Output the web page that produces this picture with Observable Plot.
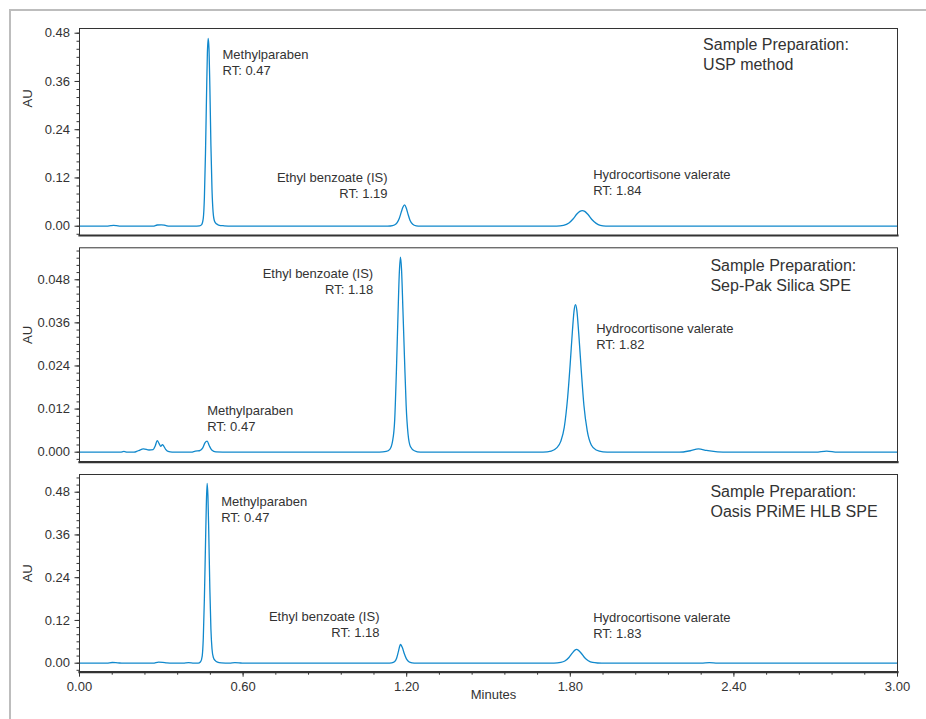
<!DOCTYPE html>
<html><head><meta charset="utf-8">
<script src="https://cdn.jsdelivr.net/npm/d3@7"></script>
<script src="https://cdn.jsdelivr.net/npm/@observablehq/plot@0.6"></script>
<style>
body{margin:0;background:#fff;}
#wrap{position:relative;width:926px;height:719px;overflow:hidden;background:#fff;}
#border{position:absolute;left:9px;top:9px;width:1000px;height:1000px;border-left:2px solid #bdbdbd;border-top:2px solid #bdbdbd;}
#wrap svg{position:absolute;left:0;}
</style></head><body><div id="wrap"><div id="border"></div></div>
<script>
// ---- data: chromatogram traces (minutes, AU) ----
const uspTime = [0, 0.10, 0.115, 0.125, 0.135, 0.15, 0.27, 0.285, 0.30, 0.315, 0.33, 0.42, 0.44, 0.448, 0.454, 0.458, 0.462, 0.466, 0.469, 0.472, 0.475, 0.478, 0.482, 0.486, 0.49, 0.495, 0.502, 0.51, 0.53, 0.56, 1.12, 1.14, 1.155, 1.165, 1.173, 1.18, 1.186, 1.192, 1.198, 1.204, 1.212, 1.222, 1.235, 1.25, 1.75, 1.775, 1.795, 1.81, 1.825, 1.835, 1.844, 1.853, 1.865, 1.88, 1.895, 1.91, 1.93, 3.0];
const uspAU = [0, 0, 0.0015, 0.002, 0.0015, 0, 0, 0.003, 0.0035, 0.002, 0, 0, 0.001, 0.004, 0.02, 0.07, 0.18, 0.33, 0.43, 0.467, 0.44, 0.35, 0.2, 0.09, 0.035, 0.013, 0.006, 0.003, 0.001, 0, 0, 0.0005, 0.003, 0.009, 0.02, 0.035, 0.047, 0.053, 0.046, 0.032, 0.015, 0.005, 0.001, 0, 0, 0.002, 0.008, 0.018, 0.031, 0.037, 0.039, 0.037, 0.029, 0.016, 0.007, 0.002, 0, 0];

const sepTime = [0, 0.15, 0.163, 0.175, 0.2, 0.215, 0.235, 0.255, 0.27, 0.278, 0.285, 0.292, 0.298, 0.304, 0.309, 0.316, 0.325, 0.34, 0.41, 0.425, 0.44, 0.452, 0.46, 0.468, 0.476, 0.485, 0.5, 0.55, 1.10, 1.125, 1.138, 1.148, 1.156, 1.162, 1.168, 1.173, 1.177, 1.181, 1.186, 1.192, 1.198, 1.205, 1.214, 1.228, 1.25, 1.70, 1.73, 1.75, 1.765, 1.778, 1.79, 1.80, 1.808, 1.814, 1.819, 1.824, 1.831, 1.84, 1.85, 1.862, 1.877, 1.895, 1.92, 1.95, 2.2, 2.24, 2.27, 2.30, 2.34, 2.38, 2.7, 2.74, 2.78, 3.0];
const sepAU = [0, 0, 0.0002, 0, 0, 0.0004, 0.0009, 0.0006, 0.0007, 0.0018, 0.0032, 0.0024, 0.0016, 0.0021, 0.0017, 0.0008, 0.0002, 0, 0, 0.0003, 0.0004, 0.0012, 0.0026, 0.0031, 0.0018, 0.0006, 0.0001, 0, 0, 0.0002, 0.0008, 0.003, 0.009, 0.022, 0.038, 0.05, 0.0543, 0.051, 0.04, 0.026, 0.013, 0.005, 0.0015, 0.0004, 0, 0, 0.0003, 0.0012, 0.003, 0.007, 0.015, 0.025, 0.034, 0.0395, 0.0411, 0.0395, 0.033, 0.023, 0.013, 0.006, 0.002, 0.0006, 0.0001, 0, 0, 0.0004, 0.0009, 0.0005, 0.0001, 0, 0, 0.0003, 0, 0];

const oasisTime = [0, 0.10, 0.12, 0.14, 0.16, 0.27, 0.29, 0.305, 0.32, 0.34, 0.38, 0.40, 0.42, 0.435, 0.444, 0.45, 0.454, 0.458, 0.462, 0.465, 0.468, 0.471, 0.474, 0.478, 0.482, 0.486, 0.491, 0.498, 0.506, 0.52, 0.55, 0.57, 0.585, 0.60, 1.13, 1.145, 1.155, 1.163, 1.17, 1.177, 1.184, 1.191, 1.199, 1.208, 1.22, 1.235, 1.74, 1.765, 1.78, 1.795, 1.808, 1.816, 1.823, 1.83, 1.84, 1.852, 1.866, 1.882, 1.9, 1.93, 2.28, 2.31, 2.34, 3.0];
const oasisAU = [0, 0, 0.002, 0.001, 0, 0, 0.003, 0.0025, 0.001, 0, 0, 0.0015, 0, 0, 0.004, 0.02, 0.07, 0.18, 0.33, 0.44, 0.505, 0.47, 0.37, 0.21, 0.095, 0.04, 0.016, 0.007, 0.003, 0.001, 0, 0.0015, 0.001, 0, 0, 0.001, 0.004, 0.014, 0.034, 0.0525, 0.044, 0.027, 0.012, 0.004, 0.001, 0, 0, 0.002, 0.006, 0.016, 0.029, 0.036, 0.0385, 0.036, 0.028, 0.016, 0.007, 0.002, 0.0005, 0, 0, 0.0015, 0, 0];

// ---- peak annotations ----
const uspLabels = ["Methylparaben\nRT: 0.47", "Ethyl benzoate (IS)\nRT: 1.19", "Hydrocortisone valerate\nRT: 1.84"];
const uspLabelT = [0.5245, 1.1296, 1.884];
const uspLabelAU = [0.4096, 0.1025, 0.1104];
const sepLabels = ["Methylparaben\nRT: 0.47", "Ethyl benzoate (IS)\nRT: 1.18", "Hydrocortisone valerate\nRT: 1.82"];
const sepLabelT = [0.4683, 1.0771, 1.895];
const sepLabelAU = [0.00953, 0.04769, 0.03251];
const oasisLabels = ["Methylparaben\nRT: 0.47", "Ethyl benzoate (IS)\nRT: 1.18", "Hydrocortisone valerate\nRT: 1.83"];
const oasisLabelT = [0.5197, 1.1002, 1.884];
const oasisLabelAU = [0.4345, 0.1095, 0.1078];
const labelAnchor = ["start", "end", "start"];

const prepTitles = ["Sample Preparation:\nUSP method", "Sample Preparation:\nSep-Pak Silica SPE", "Sample Preparation:\nOasis PRiME HLB SPE"];
const prepT = [2.287, 2.314, 2.314];
const prepAU = [0.4295, 0.04945, 0.4567];

// ---- tick labels ----
const yTicksLarge = [0, 0.12, 0.24, 0.36, 0.48];
const yTicksSmall = [0, 0.012, 0.024, 0.036, 0.048];
const xTicks = [0, 0.6, 1.2, 1.8, 2.4, 3.0];
const yMinorLarge = d3.range(-0.02, 0.525, 0.02).map(v => +v.toFixed(3));
const yMinorSmall = d3.range(-0.002, 0.0565, 0.002).map(v => +v.toFixed(4));
const xMinor = d3.range(0, 3.001, 0.12).map(v => +v.toFixed(2));

const LINE = "#1088cc";
const INK = "#333333";
const FONT = "'Liberation Sans', Arial, Helvetica, sans-serif";

function panel(cfg) {
  const data = cfg.t.map((t, i) => ({t, au: cfg.au[i]}));
  const ann = cfg.labels.map((text, i) => ({text, t: cfg.labelT[i], au: cfg.labelAU[i], anchor: labelAnchor[i]}));
  const minor = cfg.minor.filter(v => v >= cfg.domain[0] && v <= cfg.domain[1]);
  const marks = [
    Plot.line(data, {x: "t", y: "au", stroke: LINE, strokeWidth: 1.3, curve: "monotone-x", clip: true}),
    Plot.frame({stroke: INK, strokeWidth: 1}),
    Plot.frame({anchor: "bottom", stroke: INK, strokeWidth: 2.2}),
    Plot.axisY(minor, {tickSize: 2.5, tickFormat: () => "", label: null, stroke: INK}),
    Plot.axisY(cfg.major, {tickSize: 4.5, tickPadding: 5, tickFormat: cfg.fmt, label: null, stroke: INK, fill: INK, fontSize: 13}),
    Plot.text(ann.filter(d => d.anchor === "start"), {x: "t", y: "au", text: "text", textAnchor: "start", lineHeight: 1.23, fontSize: 13, fill: INK}),
    Plot.text(ann.filter(d => d.anchor === "end"), {x: "t", y: "au", text: "text", textAnchor: "end", lineHeight: 1.23, fontSize: 13, fill: INK}),
    Plot.text([{text: cfg.prep, t: cfg.prepT, au: cfg.prepAU}], {x: "t", y: "au", text: "text", textAnchor: "start", lineHeight: 1.25, fontSize: 16, fill: INK}),
    Plot.text(["AU"], {frameAnchor: "left", rotate: -90, dx: -52, dy: cfg.auDy, fontSize: 13, fill: INK})
  ];
  if (cfg.xaxis) {
    marks.push(
      Plot.axisX(xMinor, {tickSize: 3, tickFormat: () => "", label: null, stroke: INK}),
      Plot.axisX(xTicks, {tickSize: 5, tickPadding: 5, tickFormat: d3.format(".2f"), label: null, stroke: INK, fill: INK, fontSize: 13}),
      Plot.text(["Minutes"], {frameAnchor: "bottom", dy: 27, dx: 5, fontSize: 13, fill: INK})
    );
  }
  const svg = Plot.plot({
    width: 926,
    height: cfg.height,
    marginLeft: 79,
    marginRight: 29,
    marginTop: cfg.mt,
    marginBottom: cfg.mb,
    x: {domain: [0, 3], axis: cfg.xaxis ? undefined : null},
    y: {domain: cfg.domain},
    style: {fontFamily: FONT, fontSize: "13px", color: INK, background: "transparent", overflow: "visible"},
    marks
  });
  svg.style.top = cfg.top + "px";
  document.getElementById("wrap").appendChild(svg);
}

panel({t: uspTime, au: uspAU, labels: uspLabels, labelT: uspLabelT, labelAU: uspLabelAU,
  prep: prepTitles[0], prepT: prepT[0], prepAU: prepAU[0],
  top: 0, height: 240, mt: 28, mb: 5, domain: [-0.0231, 0.4917],
  major: yTicksLarge, minor: yMinorLarge, fmt: d3.format(".2f"), auDy: -24.5, xaxis: false});

panel({t: sepTime, au: sepAU, labels: sepLabels, labelT: sepLabelT, labelAU: sepLabelAU,
  prep: prepTitles[1], prepT: prepT[1], prepAU: prepAU[1],
  top: 240, height: 225, mt: 7.3, mb: 3.3, domain: [-0.00279, 0.0569],
  major: yTicksSmall, minor: yMinorSmall, fmt: d3.format(".3f"), auDy: -11, xaxis: false});

panel({t: oasisTime, au: oasisAU, labels: oasisLabels, labelT: oasisLabelT, labelAU: oasisLabelAU,
  prep: prepTitles[2], prepT: prepT[2], prepAU: prepAU[2],
  top: 465, height: 254, mt: 9, mb: 47.3, domain: [-0.0253, 0.5297],
  major: yTicksLarge, minor: yMinorLarge, fmt: d3.format(".2f"), auDy: 9, xaxis: true});
</script></body></html>
